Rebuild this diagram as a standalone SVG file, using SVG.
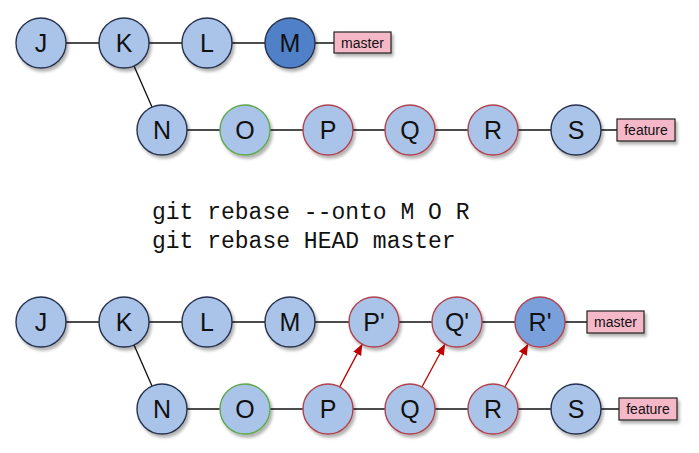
<svg xmlns="http://www.w3.org/2000/svg" width="699" height="453" viewBox="0 0 699 453">
<defs>
<filter id="sh" x="-30%" y="-30%" width="160%" height="160%">
<feDropShadow dx="2" dy="3" stdDeviation="1.8" flood-color="#000" flood-opacity="0.3"/>
</filter>
<marker id="ah" markerUnits="userSpaceOnUse" markerWidth="12" markerHeight="12" viewBox="0 0 12 12" refX="11" refY="6" orient="auto">
<path d="M0,1.5 L11,6 L0,10.5 Z" fill="#c00000"/>
</marker>
<style>
.n circle{fill:#a9c4e8;stroke:#27324d;stroke-width:1.4;filter:url(#sh)}
.n.g circle{stroke:#5fa84f}
.n.r circle{stroke:#b0434f}
.n.d circle{fill:#4f80c8}
.n.d2 circle{fill:#7aa0db}
.n text{font-family:"Liberation Sans",Arial,sans-serif;font-size:25px;fill:#111;text-anchor:middle}
.lb rect{fill:#f5b8c9;stroke:#222;stroke-width:1.2;filter:url(#sh)}
.lb text{font-family:"Liberation Sans",Arial,sans-serif;font-size:14px;fill:#111;text-anchor:middle}
.e line{stroke:#111;stroke-width:1.3}
.a line{stroke:#c00000;stroke-width:1.3;marker-end:url(#ah)}
.cmd{font-family:"Liberation Mono","DejaVu Sans Mono",monospace;font-size:23px;fill:#111}
</style>
</defs>
<rect width="699" height="453" fill="#fff"/>
<g id="connectors" class="e">
<line x1="41" y1="43" x2="290" y2="43"/>
<line x1="290" y1="43" x2="334" y2="43"/>
<line x1="124" y1="43" x2="162" y2="130"/>
<line x1="162" y1="130" x2="576" y2="130"/>
<line x1="576" y1="130" x2="617" y2="130"/>
<line x1="41" y1="322" x2="540" y2="322"/>
<line x1="540" y1="322" x2="587" y2="322"/>
<line x1="124" y1="322" x2="162" y2="409"/>
<line x1="162" y1="409" x2="576" y2="409"/>
<line x1="576" y1="409" x2="619" y2="409"/>
</g>
<g id="arrows" class="a">
<line x1="339.7" y1="386.9" x2="362.3" y2="344.1"/>
<line x1="421.9" y1="387" x2="445.1" y2="344"/>
<line x1="504.9" y1="387" x2="528.1" y2="344"/>
</g>
<g id="J1" class="n"><circle cx="41" cy="43" r="25"/><text x="41" y="52">J</text></g>
<g id="K1" class="n"><circle cx="124" cy="43" r="25"/><text x="124" y="52">K</text></g>
<g id="L1" class="n"><circle cx="207" cy="43" r="25"/><text x="207" y="52">L</text></g>
<g id="M1" class="n d"><circle cx="290" cy="43" r="25"/><text x="290" y="52">M</text></g>
<g id="master1" class="lb"><rect x="334" y="32" width="57" height="21"/><text x="362.5" y="47.5">master</text></g>
<g id="N1" class="n"><circle cx="162" cy="130" r="25"/><text x="162" y="139">N</text></g>
<g id="O1" class="n g"><circle cx="245" cy="130" r="25"/><text x="245" y="139">O</text></g>
<g id="P1" class="n r"><circle cx="328" cy="130" r="25"/><text x="328" y="139">P</text></g>
<g id="Q1" class="n r"><circle cx="410" cy="130" r="25"/><text x="410" y="139">Q</text></g>
<g id="R1" class="n r"><circle cx="493" cy="130" r="25"/><text x="493" y="139">R</text></g>
<g id="S1" class="n"><circle cx="576" cy="130" r="25"/><text x="576" y="139">S</text></g>
<g id="feature1" class="lb"><rect x="617" y="119" width="58" height="22"/><text x="646" y="135">feature</text></g>
<g id="command">
<text class="cmd" x="152" y="219">git rebase --onto M O R</text>
<text class="cmd" x="152" y="248">git rebase HEAD master</text>
</g>
<g id="J2" class="n"><circle cx="41" cy="322" r="25"/><text x="41" y="331">J</text></g>
<g id="K2" class="n"><circle cx="124" cy="322" r="25"/><text x="124" y="331">K</text></g>
<g id="L2" class="n"><circle cx="207" cy="322" r="25"/><text x="207" y="331">L</text></g>
<g id="M2" class="n"><circle cx="290" cy="322" r="25"/><text x="290" y="331">M</text></g>
<g id="P2p" class="n r"><circle cx="374" cy="322" r="25"/><text x="374" y="331">P'</text></g>
<g id="Q2p" class="n r"><circle cx="457" cy="322" r="25"/><text x="457" y="331">Q'</text></g>
<g id="R2p" class="n r d2"><circle cx="540" cy="322" r="25"/><text x="540" y="331">R'</text></g>
<g id="master2" class="lb"><rect x="587" y="311" width="57" height="22"/><text x="615.5" y="327">master</text></g>
<g id="N2" class="n"><circle cx="162" cy="409" r="25"/><text x="162" y="418">N</text></g>
<g id="O2" class="n g"><circle cx="245" cy="409" r="25"/><text x="245" y="418">O</text></g>
<g id="P2" class="n r"><circle cx="328" cy="409" r="25"/><text x="328" y="418">P</text></g>
<g id="Q2" class="n r"><circle cx="410" cy="409" r="25"/><text x="410" y="418">Q</text></g>
<g id="R2" class="n r"><circle cx="493" cy="409" r="25"/><text x="493" y="418">R</text></g>
<g id="S2" class="n"><circle cx="576" cy="409" r="25"/><text x="576" y="418">S</text></g>
<g id="feature2" class="lb"><rect x="619" y="398" width="58" height="22"/><text x="648" y="414">feature</text></g>
</svg>
